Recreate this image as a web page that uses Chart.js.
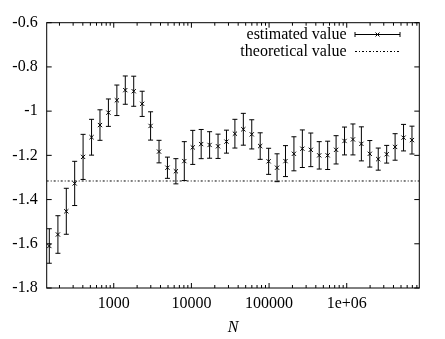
<!DOCTYPE html>
<html>
<head>
<meta charset="utf-8">
<script src="https://cdn.jsdelivr.net/npm/chart.js@4.4.1/dist/chart.umd.min.js"></script>
<style>
  html, body { margin: 0; padding: 0; background: #fff; }
  .warm { position: absolute; left: -999px; top: 0; font: 16px "Liberation Serif"; }
  .warm i { font-style: italic; }
</style>
</head>
<body>
<div class="warm">estimated value <i>N</i></div>
<canvas id="chart" width="445" height="339"></canvas>
<script>
// sample sizes N
const sizes = [148, 191, 245, 314, 403, 518, 665, 854, 1097, 1408, 1808, 2322, 2981, 3828,
  4915, 6311, 8103, 10405, 13360, 17154, 22026, 28283, 36316, 46630, 59874, 76880, 98716,
  126753, 162755, 208981, 268337, 344551, 442413, 568070, 729416, 936589, 1202604, 1544174,
  1982759, 2545913, 3269017, 4197501, 5389698, 6920509];
// estimated value and its error (half length of the bar)
const estimated = [-1.61, -1.558, -1.453, -1.327, -1.207, -1.118, -1.063, -1.007, -0.951, -0.905,
  -0.91, -0.967, -1.067, -1.183, -1.256, -1.272, -1.226, -1.164, -1.149, -1.153, -1.159, -1.138,
  -1.102, -1.082, -1.105, -1.158, -1.227, -1.256, -1.226, -1.193, -1.17, -1.175, -1.2, -1.2,
  -1.175, -1.135, -1.128, -1.148, -1.193, -1.217, -1.195, -1.162, -1.12, -1.131];
const errors = [0.078, 0.085, 0.104, 0.1, 0.102, 0.081, 0.069, 0.062, 0.069, 0.064,
  0.068, 0.057, 0.064, 0.051, 0.048, 0.057, 0.088, 0.077, 0.066, 0.06, 0.055, 0.052,
  0.065, 0.072, 0.066, 0.06, 0.059, 0.063, 0.07, 0.077, 0.085, 0.076, 0.062, 0.064,
  0.064, 0.063, 0.07, 0.077, 0.06, 0.05, 0.04, 0.06, 0.06, 0.063];
const theoretical = -1.316;

const xRange = [137, 8.6e6];
const xTicks = [1000, 10000, 100000, 1000000];
const xTickLabels = ['1000', '10000', '100000', '1e+06'];
const yTicks = [-1.8, -1.6, -1.4, -1.2, -1, -0.8, -0.6];
const yTickLabels = ['-1.8', '-1.6', '-1.4', '-1.2', '-1', '-0.8', '-0.6'];

const FONT = '"Liberation Serif", "Times New Roman", serif';
const INK = '#000';

// vertical error bars with small caps
const errorBars = {
  id: 'errorBars',
  afterDatasetsDraw(chart) {
    const ctx = chart.ctx;
    const ys = chart.scales.y;
    const pts = chart.getDatasetMeta(0).data;
    ctx.save();
    ctx.strokeStyle = INK;
    ctx.lineWidth = 1;
    ctx.beginPath();
    pts.forEach((p, i) => {
      const top = ys.getPixelForValue(estimated[i] + errors[i]);
      const bot = ys.getPixelForValue(estimated[i] - errors[i]);
      ctx.moveTo(p.x, top); ctx.lineTo(p.x, bot);
      ctx.moveTo(p.x - 2.5, top); ctx.lineTo(p.x + 2.5, top);
      ctx.moveTo(p.x - 2.5, bot); ctx.lineTo(p.x + 2.5, bot);
    });
    ctx.stroke();
    ctx.restore();
  }
};

// gnuplot style box: frame, inward ticks on all four sides, legend
const frame = {
  id: 'frame',
  afterDraw(chart) {
    const { ctx, chartArea: a } = chart;
    const xs = chart.scales.x, ys = chart.scales.y;
    ctx.save();
    ctx.strokeStyle = INK;
    ctx.lineWidth = 1;
    ctx.strokeRect(a.left, a.top, a.right - a.left, a.bottom - a.top);

    ctx.beginPath();
    // x ticks: majors at decades, minors at 2..9
    for (let d = 100; d <= 1e7; d *= 10) {
      for (let m = 1; m <= 9; m++) {
        const v = d * m;
        if (v < xRange[0] || v > xRange[1]) continue;
        const px = xs.getPixelForValue(v);
        const len = m === 1 ? 5 : 3;
        ctx.moveTo(px, a.bottom); ctx.lineTo(px, a.bottom - len);
        ctx.moveTo(px, a.top); ctx.lineTo(px, a.top + len);
      }
    }
    yTicks.forEach(v => {
      const py = ys.getPixelForValue(v);
      ctx.moveTo(a.left, py); ctx.lineTo(a.left + 5, py);
      ctx.moveTo(a.right, py); ctx.lineTo(a.right - 5, py);
    });
    ctx.stroke();

    // legend
    const ds = chart.data.datasets;
    const textRight = 346.5, s0 = 355, s1 = 400;
    const rows = [34.5, 51.5];
    ctx.font = '16px ' + FONT;
    ctx.fillStyle = INK;
    ctx.textAlign = 'right';
    ctx.textBaseline = 'middle';
    ctx.fillText(ds[0].label, textRight, rows[0]);
    ctx.fillText(ds[1].label, textRight, rows[1]);

    ctx.beginPath();
    ctx.moveTo(s0, rows[0]); ctx.lineTo(s1, rows[0]);
    ctx.moveTo(s0, rows[0] - 2.5); ctx.lineTo(s0, rows[0] + 2.5);
    ctx.moveTo(s1, rows[0] - 2.5); ctx.lineTo(s1, rows[0] + 2.5);
    const mx = (s0 + s1) / 2, r = 2;
    ctx.moveTo(mx - r, rows[0] - r); ctx.lineTo(mx + r, rows[0] + r);
    ctx.moveTo(mx - r, rows[0] + r); ctx.lineTo(mx + r, rows[0] - r);
    ctx.stroke();

    ctx.setLineDash(ds[1].borderDash);
    ctx.beginPath();
    ctx.moveTo(s0, rows[1]); ctx.lineTo(s1, rows[1]);
    ctx.stroke();
    ctx.restore();
  }
};

function draw() {
  new Chart(document.getElementById('chart'), {
    type: 'scatter',
    data: {
      datasets: [{
        label: 'estimated value',
        data: sizes.map((n, i) => ({ x: n, y: estimated[i] })),
        pointStyle: 'crossRot',
        pointRadius: 3,
        borderColor: INK,
        borderWidth: 1,
        showLine: false
      }, {
        label: 'theoretical value',
        type: 'line',
        data: [{ x: xRange[0], y: theoretical }, { x: xRange[1], y: theoretical }],
        borderColor: INK,
        borderWidth: 1,
        borderDash: [2, 2, 1, 2],
        pointRadius: 0,
        fill: false
      }]
    },
    options: {
      responsive: false,
      animation: false,
      devicePixelRatio: 1,
      layout: { padding: { left: 0, top: 22.7, right: 25.7, bottom: 0 } },
      plugins: { legend: { display: false }, tooltip: { enabled: false } },
      scales: {
        x: {
          type: 'logarithmic',
          min: xRange[0],
          max: xRange[1],
          afterBuildTicks: s => { s.ticks = xTicks.map(v => ({ value: v })); },
          afterFit: s => { s.height = 51; },
          grid: { display: false, drawTicks: false },
          border: { display: false },
          ticks: {
            autoSkip: false,
            maxRotation: 0,
            padding: 6,
            color: INK,
            font: { family: FONT, size: 16 },
            callback: (v, i) => xTickLabels[i]
          },
          title: {
            display: true,
            text: 'N',
            color: INK,
            font: { family: FONT, size: 16, style: 'italic' },
            padding: { top: 0, bottom: 2 }
          }
        },
        y: {
          min: -1.8,
          max: -0.6,
          afterBuildTicks: s => { s.ticks = yTicks.map(v => ({ value: v })); },
          afterFit: s => { s.width = 46.7; },
          grid: { display: false, drawTicks: false },
          border: { display: false },
          ticks: {
            padding: 9,
            color: INK,
            font: { family: FONT, size: 16 },
            callback: (v, i) => yTickLabels[i]
          }
        }
      }
    },
    plugins: [errorBars, frame]
  });
}

Promise.all([
  document.fonts.load('16px "Liberation Serif"'),
  document.fonts.load('italic 16px "Liberation Serif"')
]).then(draw, draw);
</script>
</body>
</html>
